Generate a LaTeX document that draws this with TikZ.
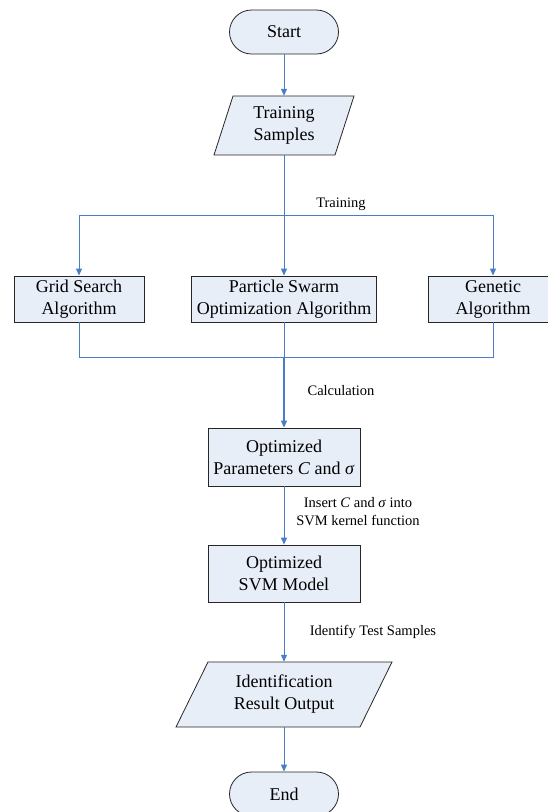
\documentclass[tikz,border=0pt]{standalone}
\usepackage{fontspec}
\setmainfont{Liberation Serif}
\usetikzlibrary{arrows.meta,calc}
\definecolor{boxfill}{HTML}{E8EEF8}
\definecolor{flowblue}{HTML}{4A7EC4}
\tikzset{
  basebox/.style={draw=black!85, line width=0.8pt, fill=boxfill, align=center,
    font=\fontsize{18}{22}\selectfont, inner sep=0pt},
  procbox/.style={basebox, rectangle, minimum height=#1},
  termbox/.style={basebox, rectangle, rounded corners=22pt, minimum width=109pt, minimum height=44pt},
  paratext/.style={align=center, font=\fontsize{18}{22}\selectfont, inner sep=0pt},
  paraline/.style={draw=black!85, line width=0.8pt, fill=boxfill},
  flow/.style={draw=flowblue, line width=1pt, -{Triangle[width=6pt,length=7pt]}},
  plainflow/.style={draw=flowblue, line width=1pt},
  lbl/.style={font=\fontsize{14.5}{18}\selectfont, align=center, inner sep=0pt}
}
\begin{document}
\begin{tikzpicture}[x=1pt,y=-1pt]
\useasboundingbox (0,0) rectangle (548,812);
% Start
\node[termbox] (start) at (284,32) {Start};
% Training samples parallelogram
\path[paraline] (233,96) -- (354,96) -- (335,155) -- (214,155) -- cycle;
\node[paratext, minimum height=59pt, minimum width=100pt] (ts) at (284,125.5) {Training\\Samples};
% Algorithm boxes
\node[procbox=46pt, minimum width=130pt] (gs) at (79,299) {Grid Search\\Algorithm};
\node[procbox=46pt, minimum width=185pt] (pso) at (284,299) {Particle Swarm\\Optimization Algorithm};
\node[procbox=46pt, minimum width=130pt] (ga) at (493,299) {Genetic\\Algorithm};
% Optimized parameters
\node[procbox=58pt, minimum width=152pt] (op) at (284,457) {Optimized\\Parameters \textit{C} and \textit{σ}};
% Optimized SVM
\node[procbox=57pt, minimum width=152pt] (svm) at (284,573.5) {Optimized\\SVM Model};
% Identification parallelogram
\path[paraline] (208,662) -- (392,662) -- (360,727) -- (176,727) -- cycle;
\node[paratext, minimum height=65pt, minimum width=150pt] (id) at (284,694.5) {Identification\\Result Output};
% End
\node[termbox] (end) at (284,794) {End};

% coordinates
\coordinate (split) at (284,215);
\coordinate (merge) at (284,357);

% connectors
\draw[flow] (start) -- (ts);
\draw[flow] (ts.south) -- (pso.north);
\draw[flow] (split) -| (gs.north);
\draw[flow] (split) -| (ga.north);
\draw[plainflow] (gs.south) |- (merge);
\draw[plainflow] (ga.south) |- (merge);
\draw[plainflow] (pso.south) -- (merge);
\draw[flow, line width=1.4pt] (merge) -- (op.north);
\draw[flow] (op.south) -- (svm.north);
\draw[flow] (svm.south) -- (id.north);
\draw[flow] (id.south) -- (end.north);

% labels
\node[lbl] (ltrain) at (341,204) {Training};
\node[lbl] (lcalc) at (341,391) {Calculation};
\node[lbl] (lins) at (358,512) {Insert \textit{C} and \textit{σ} into\\SVM kernel function};
\node[lbl] (lident) at (373,632) {Identify Test Samples};
\end{tikzpicture}
\end{document}
